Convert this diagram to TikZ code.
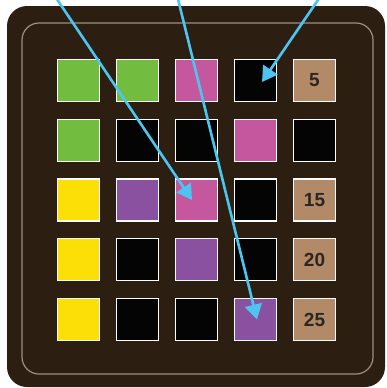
\documentclass[tikz,border=0pt]{standalone}
\usepackage{fontspec}
\setmainfont{Liberation Sans}
\usepackage{xcolor}
\usepackage{tikz}
\usetikzlibrary{arrows.meta}

\definecolor{boardbg}{HTML}{2C1F12}
\definecolor{rimline}{HTML}{A08E7E}
\definecolor{padgreen}{HTML}{72BD40}
\definecolor{padpink}{HTML}{C4579E}
\definecolor{padpurple}{HTML}{8A51A1}
\definecolor{padyellow}{HTML}{FBDF06}
\definecolor{padblack}{HTML}{040404}
\definecolor{padtan}{HTML}{B38A67}
\definecolor{padtext}{HTML}{2A2623}
\definecolor{pointer}{HTML}{4CC6F0}

\begin{document}
\begin{tikzpicture}[x=1pt,y=-1pt,
  pad/.style={rectangle,draw=white,line width=1.2pt,minimum size=42pt,inner sep=0pt,
    font=\fontsize{19}{19}\selectfont\bfseries,text=padtext},
  >={Triangle[length=15pt,width=17pt]}]
  \useasboundingbox (0,0) rectangle (386,388);
  \fill[boardbg, rounded corners=20pt] (7,6) rectangle (385,387);
  \draw[rimline, line width=1.2pt, rounded corners=17pt] (22,23) rectangle (373,374);
  % row 1
  \node[pad,fill=padgreen] (k11) at (78.5,80.5) {};
  \node[pad,fill=padgreen] (k12) at (137.5,80.5) {};
  \node[pad,fill=padpink] (k13) at (196.5,80.5) {};
  \node[pad,fill=padblack] (k14) at (255.5,80.5) {};
  \node[pad,fill=padtan] (k15) at (314.5,80.5) {5};
  % row 2
  \node[pad,fill=padgreen] (k21) at (78.5,140.25) {};
  \node[pad,fill=padblack] (k22) at (137.5,140.25) {};
  \node[pad,fill=padblack] (k23) at (196.5,140.25) {};
  \node[pad,fill=padpink] (k24) at (255.5,140.25) {};
  \node[pad,fill=padblack] (k25) at (314.5,140.25) {};
  % row 3
  \node[pad,fill=padyellow] (k31) at (78.5,200) {};
  \node[pad,fill=padpurple] (k32) at (137.5,200) {};
  \node[pad,fill=padpink] (k33) at (196.5,200) {};
  \node[pad,fill=padblack] (k34) at (255.5,200) {};
  \node[pad,fill=padtan] (k35) at (314.5,200) {15};
  % row 4
  \node[pad,fill=padyellow] (k41) at (78.5,259.75) {};
  \node[pad,fill=padblack] (k42) at (137.5,259.75) {};
  \node[pad,fill=padpurple] (k43) at (196.5,259.75) {};
  \node[pad,fill=padblack] (k44) at (255.5,259.75) {};
  \node[pad,fill=padtan] (k45) at (314.5,259.75) {20};
  % row 5
  \node[pad,fill=padyellow] (k51) at (78.5,319.5) {};
  \node[pad,fill=padblack] (k52) at (137.5,319.5) {};
  \node[pad,fill=padblack] (k53) at (196.5,319.5) {};
  \node[pad,fill=padpurple] (k54) at (255.5,319.5) {};
  \node[pad,fill=padtan] (k55) at (314.5,319.5) {25};
  % pointers from above
  \coordinate (p1) at (55.5,-3);
  \coordinate (p2) at (177.5,-3);
  \coordinate (p3) at (320,-3);
  \draw[->, pointer, line width=2.6pt] (p1) -- ([xshift=-4.5pt]k33.center);
  \draw[->, pointer, line width=2.6pt] (p2) -- ([xshift=1.5pt]k54.center);
  \draw[->, pointer, line width=2.6pt] (p3) -- ([xshift=6.5pt,yshift=-1.5pt]k14.center);
\end{tikzpicture}
\end{document}
